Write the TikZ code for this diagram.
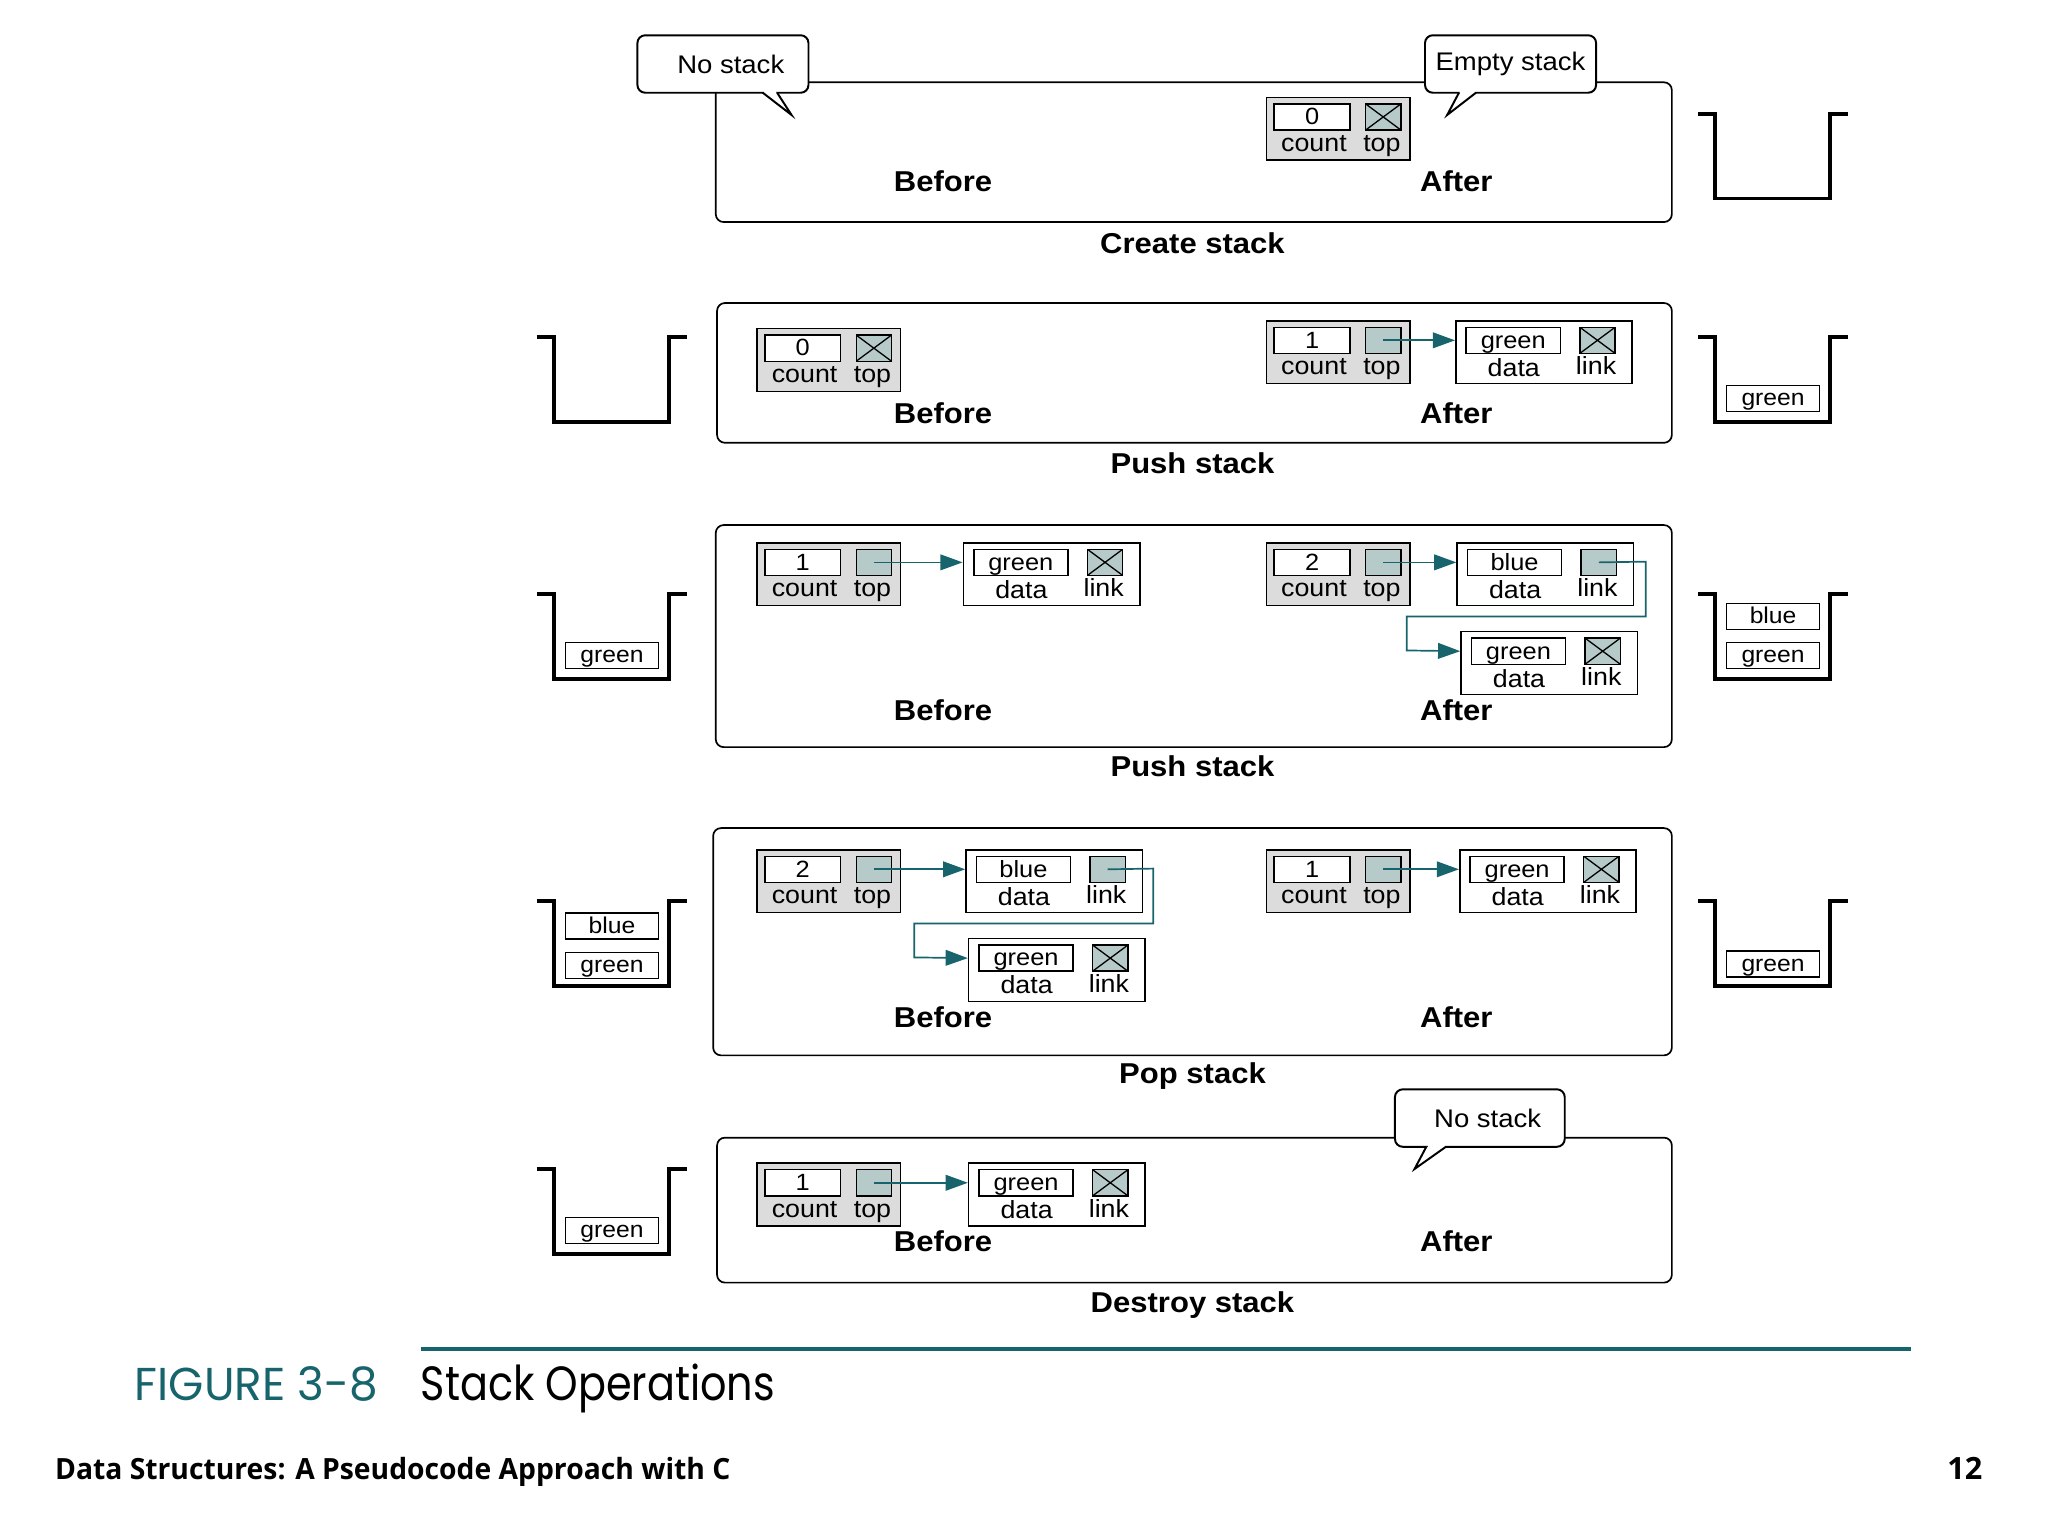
\documentclass[tikz,border=0pt]{standalone}
\usepackage{fontspec}
\setmainfont[FakeStretch=1.08]{Liberation Sans}
\newfontfamily\footfont{Open Sans}
\newfontfamily\capfont{Poppins}
\usetikzlibrary{arrows.meta,calc}
\definecolor{hdrgray}{HTML}{DCDCDC}
\definecolor{ptrgray}{HTML}{B7CACA}
\definecolor{tealc}{HTML}{17646C}
\tikzset{
 panel/.style={draw, line width=1.3pt, rounded corners=6pt},
 hdrbox/.style={draw, fill=hdrgray, line width=1.2pt, minimum width=110pt, minimum height=48pt, inner sep=0pt, anchor=north west},
 recbox/.style={draw, fill=white, line width=1.2pt, minimum width=135pt, minimum height=48pt, inner sep=0pt, anchor=north west},
 valfield/.style={draw, fill=white, line width=1.1pt, inner sep=0pt, minimum height=20pt, text height=14pt, text depth=2pt, anchor=north west, font=\fontsize{18}{18}\selectfont},
 ptrfield/.style={draw, fill=ptrgray, line width=1.1pt, inner sep=0pt, minimum width=27pt, minimum height=20pt, anchor=north west},
 nullfield/.style={ptrfield, path picture={\draw[line width=1pt] (path picture bounding box.north west) -- (path picture bounding box.south east) (path picture bounding box.south west) -- (path picture bounding box.north east);}},
 flabel/.style={font=\fontsize{19}{19}\selectfont, inner sep=0pt, anchor=base},
 steplabel/.style={font=\fontsize{22}{22}\selectfont\bfseries, inner sep=0pt},
 ptrarrow/.style={draw=tealc, line width=1.3pt, -{Triangle[length=17pt,width=12pt]}},
 bucketline/.style={line width=3pt, line join=miter},
 item/.style={draw, line width=1pt, minimum width=71pt, minimum height=20pt, inner sep=0pt, text height=13pt, text depth=2pt, font=\fontsize{17.5}{17.5}\selectfont},
 calloutbox/.style={draw, fill=white, line width=1.5pt, rounded corners=6pt, inner sep=0pt, font=\fontsize{19.5}{19.5}\selectfont},
}
% header record: name, x, y, count, field style
\newcommand\hdr[5]{%
 \node[hdrbox] (#1) at (#2,#3) {};
 \node[valfield, minimum width=58pt] (#1-c) at ($(#1.north west)+(6,5)$) {#4};
 \node[#5] (#1-t) at ($(#1.north west)+(76,5)$) {};
 \node[flabel] (#1-cl) at ($(#1.north west)+(37,42)$) {count};
 \node[flabel] (#1-tl) at ($(#1.north west)+(89,42)$) {top};
}
% data record: name, x, y, data, field style
\newcommand\rec[5]{%
 \node[recbox] (#1) at (#2,#3) {};
 \node[valfield, minimum width=72pt] (#1-d) at ($(#1.north west)+(8,5)$) {#4};
 \node[#5] (#1-l) at ($(#1.north west)+(95,5)$) {};
 \node[flabel] (#1-dl) at ($(#1.north west)+(45,43)$) {data};
 \node[flabel] (#1-ll) at ($(#1.north west)+(108,42)$) {link};
}
% bucket: left wall x, top y, bottom y
\newcommand\bucket[3]{%
 \draw[bucketline] (#1-13,#2) -- (#1,#2) -- (#1,#3) -- (#1+88,#3) -- (#1+88,#2) -- (#1+102,#2);
}
% callout: name, cx, cy, w, h, text, baseL, baseR, tip
\newcommand\callout[9]{%
 \node[calloutbox, minimum width=#4pt, minimum height=#5pt] (#1) at (#2,#3) {#6};
 \coordinate (#1-tip) at (#9);
 \fill[white] (#7+1,#3+#5/2-2.5) rectangle (#8-1,#3+#5/2+1);
 \fill[white] (#7,#3+#5/2) -- (#1-tip) -- (#8,#3+#5/2) -- cycle;
 \draw[line width=1.5pt, line join=miter] (#7,#3+#5/2) -- (#1-tip) -- (#8,#3+#5/2);
}
\begin{document}
\begin{tikzpicture}[x=1pt,y=-1pt]
\useasboundingbox (0,0) rectangle (1568,1176);
% ---------- Panel 1: Create stack
\draw[panel] (548,63) rectangle (1280,170);
\hdr{h1}{969}{74}{0}{nullfield}
\node[steplabel] (b1) at (722,139) {Before};
\node[steplabel] (a1) at (1115,139) {After};
\node[steplabel] (t1) at (913,186) {Create stack};
\callout{c1}{553.5}{49}{131}{44}{\hspace*{12pt}No stack}{584}{595}{606,88}
\callout{c2}{1156.5}{49}{131}{44}{Empty stack}{1117}{1130}{1108,88}
\bucket{1313}{87}{152}
% ---------- Panel 2: Push stack
\draw[panel] (549,232) rectangle (1280,339);
\hdr{h2a}{579}{251}{0}{nullfield}
\hdr{h2b}{969}{245}{1}{ptrfield}
\rec{n2}{1114}{245}{green}{nullfield}
\draw[ptrarrow] (h2b-t.center) -- (n2.west |- h2b-t.center);
\node[steplabel] (b2) at (722,316) {Before};
\node[steplabel] (a2) at (1115,316) {After};
\node[steplabel] (t2) at (913,355) {Push stack};
\bucket{424}{258}{323}
\bucket{1313}{258}{323}
\node[item] (s2r1) at (1357.5,305) {green};
% ---------- Panel 3: Push stack
\draw[panel] (548,402) rectangle (1280,572);
\hdr{h3a}{579}{415}{1}{ptrfield}
\rec{n3a}{737}{415}{green}{nullfield}
\draw[ptrarrow] (h3a-t.center) -- (n3a.west |- h3a-t.center);
\hdr{h3b}{969}{415}{2}{ptrfield}
\rec{n3b}{1115}{415}{blue}{ptrfield}
\rec{n3c}{1118}{483}{green}{nullfield}
\draw[ptrarrow] (h3b-t.center) -- (n3b.west |- h3b-t.center);
\draw[ptrarrow] (n3b-l.center) -- (1260,430) -- (1260,472) -- (1077,472) -- (1077,498) -- (n3c.west |- n3c-d.center);
\node[steplabel] (b3) at (722,544) {Before};
\node[steplabel] (a3) at (1115,544) {After};
\node[steplabel] (t3) at (913,587) {Push stack};
\bucket{424}{455}{520}
\node[item] (s3l1) at (468.5,502) {green};
\bucket{1313}{455}{520}
\node[item] (s3r1) at (1357.5,472) {blue};
\node[item] (s3r2) at (1357.5,502) {green};
% ---------- Panel 4: Pop stack
\draw[panel] (546,634) rectangle (1280,808);
\hdr{h4a}{579}{650}{2}{ptrfield}
\rec{n4a}{739}{650}{blue}{ptrfield}
\rec{n4b}{741}{718}{green}{nullfield}
\draw[ptrarrow] (h4a-t.center) -- (n4a.west |- h4a-t.center);
\draw[ptrarrow] (n4a-l.center) -- (883,665) -- (883,707) -- (700,707) -- (700,733) -- (n4b.west |- n4b-d.center);
\hdr{h4b}{969}{650}{1}{ptrfield}
\rec{n4c}{1117}{650}{green}{nullfield}
\draw[ptrarrow] (h4b-t.center) -- (n4c.west |- h4b-t.center);
\node[steplabel] (b4) at (722,779) {Before};
\node[steplabel] (a4) at (1115,779) {After};
\node[steplabel] (t4) at (913,824) {Pop stack};
\bucket{424}{690}{755}
\node[item] (s4l1) at (468.5,709) {blue};
\node[item] (s4l2) at (468.5,739) {green};
\bucket{1313}{690}{755}
\node[item] (s4r1) at (1357.5,738) {green};
% ---------- Panel 5: Destroy stack
\draw[panel] (549,871) rectangle (1280,982);
\hdr{h5}{579}{890}{1}{ptrfield}
\rec{n5}{741}{890}{green}{nullfield}
\draw[ptrarrow] (h5-t.center) -- (n5.west |- h5-t.center);
\node[steplabel] (b5) at (722,950) {Before};
\node[steplabel] (a5) at (1115,950) {After};
\node[steplabel] (t5) at (913,999) {Destroy stack};
\callout{c3}{1133}{856}{130}{44}{\hspace*{12pt}No stack}{1092}{1107}{1083,895}
\bucket{424}{895}{960}
\node[item] (s5l1) at (468.5,942) {green};
% ---------- Footer
\draw[tealc, line width=3pt] (322,1033) -- (1463,1033);
\node[anchor=base west, inner sep=0pt, text=tealc] (figno) at (103,1072) {\resizebox{186pt}{26pt}{\capfont FIGURE 3-8}};
\node[anchor=base west, inner sep=0pt] (figtitle) at (322,1072) {\resizebox{271pt}{28pt}{\capfont Stack Operations}};
\node[anchor=base west, inner sep=0pt] (foot) at (42,1133) {\resizebox{517pt}{17pt}{\fontsize{21}{21}\footfont\bfseries Data Structures: A Pseudocode Approach with C}};
\node[anchor=base east, inner sep=0pt] (pageno) at (1518,1133) {\resizebox{!}{17pt}{\fontsize{21}{21}\footfont\bfseries 12}};
\end{tikzpicture}
\end{document}
